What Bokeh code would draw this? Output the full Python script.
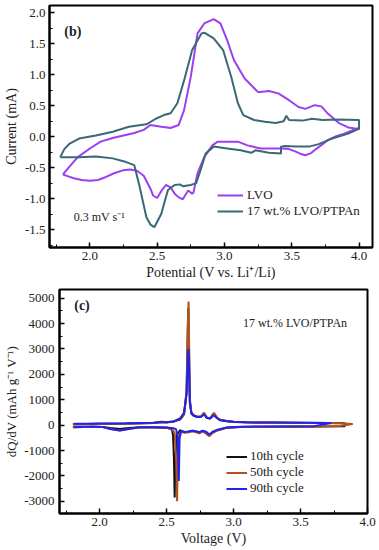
from bokeh.plotting import figure
from bokeh.models import Legend, LegendItem, Label, FixedTicker, Range1d, PrintfTickFormatter
from bokeh.embed import file_html
from bokeh.resources import INLINE

FONT = "Liberation Serif"

# ---------------- Panel (b): cyclic voltammetry ----------------
lvo_v = [1.80, 1.85, 1.91, 2.00, 2.08, 2.17, 2.25, 2.33, 2.40, 2.45, 2.53, 2.60, 2.66, 2.70,
         2.75, 2.80, 2.85, 2.92, 2.97, 3.02, 3.07, 3.15, 3.25, 3.33, 3.40, 3.48, 3.55, 3.60,
         3.67, 3.72, 3.77, 3.85, 3.92, 3.98, 4.00,
         4.00, 3.95, 3.89, 3.83, 3.77, 3.73, 3.68, 3.64, 3.60, 3.57, 3.53, 3.48, 3.43, 3.38,
         3.27, 3.17, 3.10, 2.95, 2.91, 2.85, 2.80, 2.77, 2.76, 2.73, 2.69, 2.66, 2.63, 2.60,
         2.565, 2.53, 2.50, 2.47, 2.45, 2.40, 2.35, 2.30, 2.25, 2.18, 2.12, 2.06, 2.00, 1.94,
         1.88, 1.84, 1.80]
lvo_i = [-0.61, -0.48, -0.33, -0.19, -0.08, -0.02, 0.02, 0.06, 0.11, 0.19, 0.16, 0.14, 0.19, 0.43,
         0.97, 1.67, 1.83, 1.90, 1.83, 1.56, 1.24, 0.94, 0.72, 0.74, 0.70, 0.59, 0.48, 0.45,
         0.51, 0.49, 0.37, 0.22, 0.15, 0.13, 0.12,
         0.14, 0.10, 0.05, 0.01, -0.05, -0.12, -0.20, -0.27, -0.30, -0.28, -0.24, -0.20, -0.19, -0.19,
         -0.19, -0.14, -0.08, -0.08, -0.14, -0.33, -0.59, -0.90, -0.92, -0.87, -1.01, -0.98, -0.92, -0.82,
         -0.78, -0.88, -0.99, -0.95, -0.84, -0.63, -0.55, -0.53, -0.54, -0.59, -0.65, -0.70, -0.71, -0.70,
         -0.67, -0.64, -0.61]

ptpan_v = [1.78, 1.81, 1.85, 1.92, 2.045, 2.17, 2.29, 2.42, 2.49, 2.55, 2.60, 2.65, 2.70, 2.76,
           2.83, 2.85, 2.92, 2.99, 3.05, 3.10, 3.14, 3.22, 3.30, 3.38, 3.44, 3.46, 3.48, 3.58,
           3.65, 3.73, 3.85, 4.00,
           4.00, 3.92, 3.80, 3.70, 3.63, 3.53, 3.45, 3.42, 3.42, 3.33, 3.28, 3.23, 3.20, 3.12,
           3.02, 2.92, 2.86, 2.83, 2.79, 2.75, 2.69, 2.67, 2.63, 2.58, 2.53, 2.48, 2.45, 2.42,
           2.37, 2.33, 2.27, 2.17, 2.045, 1.92, 1.84, 1.78]
ptpan_i = [-0.33, -0.20, -0.11, -0.03, 0.02, 0.08, 0.16, 0.20, 0.29, 0.35, 0.38, 0.54, 0.91, 1.40,
           1.67, 1.68, 1.59, 1.40, 0.97, 0.54, 0.35, 0.27, 0.24, 0.22, 0.25, 0.34, 0.27, 0.26,
           0.29, 0.27, 0.28, 0.27,
           0.13, 0.05, -0.03, -0.12, -0.16, -0.16, -0.15, -0.16, -0.27, -0.26, -0.24, -0.22, -0.26, -0.22,
           -0.19, -0.16, -0.27, -0.49, -0.75, -0.78, -0.80, -0.77, -0.78, -0.86, -1.25, -1.46, -1.42, -1.30,
           -0.81, -0.46, -0.41, -0.35, -0.32, -0.33, -0.33, -0.33]

cv_xticks = [2.0, 2.5, 3.0, 3.5, 4.0]
cv_yticks = [-1.5, -1.0, -0.5, 0.0, 0.5, 1.0, 1.5, 2.0]

# ---------------- Panel (c): dQ/dV ----------------
c10_v = [1.80, 1.90, 2.00, 2.10, 2.20, 2.30, 2.40, 2.46, 2.50, 2.55, 2.60, 2.63, 2.648, 2.657, 2.662,
         2.667, 2.673, 2.685, 2.70, 2.73, 2.76, 2.778, 2.80, 2.825, 2.852, 2.875, 2.90, 2.95, 3.00,
         3.10, 3.30, 3.50, 3.70, 3.83,
         3.83, 3.60, 3.40, 3.20, 3.05, 2.95, 2.88, 2.84, 2.815, 2.79, 2.765, 2.74, 2.715, 2.69, 2.66,
         2.63, 2.60, 2.575, 2.565, 2.560, 2.555, 2.548, 2.54, 2.52, 2.50, 2.40, 2.30, 2.22, 2.15, 2.08,
         2.02, 1.95, 1.88, 1.80]
c10_q = [30, 40, 50, 55, 60, 70, 85, 130, 110, 140, 220, 420, 1200, 3500, 4600,
         3000, 900, 450, 380, 320, 340, 470, 280, 260, 460, 290, 210, 160, 130,
         110, 100, 90, 80, 70,
         -40, -50, -55, -60, -70, -100, -200, -290, -420, -300, -240, -300, -260, -220, -260,
         -280, -200, -400, -1500, -2850, -1400, -400, -180, -130, -100, -85, -85, -110, -150, -110,
         -70, -65, -70, -80]

c50_v = [1.80, 1.90, 2.00, 2.10, 2.20, 2.30, 2.40, 2.46, 2.50, 2.55, 2.60, 2.63, 2.650, 2.658, 2.664,
         2.668, 2.674, 2.685, 2.70, 2.73, 2.757, 2.78, 2.80, 2.825, 2.855, 2.88, 2.90, 2.95, 3.00,
         3.10, 3.30, 3.50, 3.70, 3.80, 3.89,
         3.89, 3.80, 3.60, 3.40, 3.20, 3.05, 2.95, 2.88, 2.845, 2.82, 2.795, 2.77, 2.745, 2.72, 2.695,
         2.665, 2.635, 2.605, 2.59, 2.583, 2.578, 2.572, 2.56, 2.54, 2.50, 2.40, 2.30, 2.22, 2.15, 2.08,
         2.02, 1.95, 1.88, 1.80]
c50_q = [20, 30, 40, 45, 55, 65, 80, 110, 100, 130, 250, 450, 1400, 4000, 4870,
         3200, 1000, 500, 400, 330, 350, 490, 300, 270, 480, 280, 200, 150, 120,
         100, 90, 85, 80, 70, 40,
         40, -30, -60, -75, -70, -70, -100, -210, -300, -430, -300, -250, -320, -270, -240,
         -280, -300, -250, -500, -1500, -3000, -1500, -300, -150, -100, -90, -85, -150, -210, -150,
         -70, -65, -70, -80]

c90_v = [1.81, 1.90, 2.00, 2.10, 2.20, 2.30, 2.40, 2.46, 2.50, 2.55, 2.60, 2.63, 2.650, 2.658, 2.664,
         2.668, 2.674, 2.685, 2.70, 2.73, 2.757, 2.78, 2.80, 2.825, 2.85, 2.88, 2.90, 2.95, 3.00,
         3.10, 3.30, 3.50, 3.73,
         3.73, 3.60, 3.40, 3.20, 3.05, 2.95, 2.88, 2.845, 2.82, 2.795, 2.77, 2.745, 2.72, 2.695, 2.665,
         2.635, 2.61, 2.597, 2.591, 2.586, 2.58, 2.57, 2.55, 2.50, 2.40, 2.30, 2.22, 2.15, 2.08,
         2.02, 1.95, 1.88, 1.81]
c90_q = [50, 55, 60, 65, 70, 80, 90, 110, 110, 140, 260, 480, 1300, 2600, 3000,
         2200, 900, 480, 380, 320, 330, 420, 290, 260, 390, 260, 190, 150, 130,
         110, 100, 90, 80,
         80, -40, -50, -55, -65, -90, -180, -260, -370, -260, -220, -280, -240, -220, -250,
         -270, -230, -500, -2200, -1200, -350, -160, -120, -90, -80, -80, -140, -210, -150,
         -70, -60, -60, -70]

dq_xticks = [2.0, 2.5, 3.0, 3.5, 4.0]
dq_yticks = [-3000, -2000, -1000, 0, 1000, 2000, 3000, 4000, 5000]


def style(p, xticks, yticks, xlabel, ylabel, yfmt, ylab_size, ystand, ylabstand):
    p.grid.visible = False
    p.outline_line_color = "black"
    p.outline_line_width = 2
    p.background_fill_color = "white"
    p.border_fill_color = "white"
    p.xaxis.ticker = FixedTicker(ticks=xticks, minor_ticks=[x + 0.25 for x in xticks] + [xticks[0] - 0.25])
    step = yticks[1] - yticks[0]
    p.yaxis.ticker = FixedTicker(ticks=yticks, minor_ticks=[y + step / 2 for y in yticks] + [yticks[0] - step / 2])
    p.xaxis.formatter = PrintfTickFormatter(format="%.1f")
    p.yaxis.formatter = PrintfTickFormatter(format=yfmt)
    for ax in (p.xaxis[0], p.yaxis[0]):
        ax.axis_line_width = 2
        ax.axis_line_color = "black"
        ax.major_tick_in = 5
        ax.major_tick_out = 0
        ax.minor_tick_in = 3
        ax.minor_tick_out = 0
        ax.major_tick_line_width = 1.5
        ax.minor_tick_line_width = 1
        ax.major_label_text_font = FONT
        ax.major_label_text_font_size = "13px"
        ax.major_label_text_color = "#222222"
        ax.axis_label_text_font = FONT
        ax.axis_label_text_font_style = "normal"
        ax.axis_label_text_color = "#222222"
    p.xaxis.axis_label = xlabel
    p.yaxis.axis_label = ylabel
    p.xaxis.axis_label_text_font_size = "14px"
    p.yaxis.axis_label_text_font_size = ylab_size
    p.xaxis.major_label_standoff = 4
    p.xaxis.axis_label_standoff = 2
    p.yaxis.major_label_standoff = ystand
    p.yaxis.axis_label_standoff = ylabstand


# ---- top figure ----
p1 = figure(width=379, height=284, output_backend="svg", toolbar_location=None,
            x_range=Range1d(1.70, 4.10), y_range=Range1d(-1.79, 2.12),
            min_border_top=5, min_border_left=49, min_border_right=7, min_border_bottom=37)
style(p1, cv_xticks, cv_yticks, "Potential (V vs. Li\u207a/Li)", "Current (mA)", "%.1f", "14px", 4, 3)
r_lvo = p1.line(lvo_v, lvo_i, line_color="#9b3ff0", line_width=2)
r_pt = p1.line(ptpan_v, ptpan_i, line_color="#3a6874", line_width=2)
leg1 = Legend(items=[LegendItem(label="LVO", renderers=[r_lvo]),
                     LegendItem(label="17 wt.% LVO/PTPAn", renderers=[r_pt])],
              location=(168, 28), padding=0, margin=0, spacing=0, glyph_width=26,
              glyph_height=16, label_height=16, label_standoff=4,
              label_text_font=FONT, label_text_font_size="13px", label_text_color="#222222",
              border_line_alpha=0, background_fill_alpha=0)
p1.add_layout(leg1)
p1.add_layout(Label(x=1.81, y=1.70, text="(b)", text_font=FONT, text_font_size="14px",
                    text_font_style="bold", text_baseline="middle", text_color="#222222"))
p1.add_layout(Label(x=1.88, y=-1.30, text="0.3 mV s\u207b\u00b9", text_font=FONT, text_font_size="12px",
                    text_baseline="middle", text_color="#222222"))

# ---- bottom figure ----
p2 = figure(width=379, height=266, output_backend="svg", toolbar_location=None,
            x_range=Range1d(1.70, 4.00), y_range=Range1d(-3480, 5340),
            min_border_top=5, min_border_left=59, min_border_right=12, min_border_bottom=37)
style(p2, dq_xticks, dq_yticks, "Voltage (V)", "dQ/dV (mAh g\u207b\u00b9 V\u207b\u00b9)", "%d", "13px", 5, 2)
r10 = p2.line(c10_v, c10_q, line_color="#111111", line_width=2)
r50 = p2.line(c50_v, c50_q, line_color="#b4521e", line_width=2)
r90 = p2.line(c90_v, c90_q, line_color="#2222ee", line_width=2)
leg2 = Legend(items=[LegendItem(label="10th cycle", renderers=[r10]),
                     LegendItem(label="50th cycle", renderers=[r50]),
                     LegendItem(label="90th cycle", renderers=[r90])],
              location=(167, 17), padding=0, margin=0, spacing=0, glyph_width=21,
              glyph_height=15, label_height=15, label_standoff=3,
              label_text_font=FONT, label_text_font_size="13px", label_text_color="#222222",
              border_line_alpha=0, background_fill_alpha=0)
p2.add_layout(leg2)
p2.add_layout(Label(x=1.81, y=4700, text="(c)", text_font=FONT, text_font_size="14px",
                    text_font_style="bold", text_baseline="middle", text_color="#222222"))
p2.add_layout(Label(x=3.07, y=4040, text="17 wt.% LVO/PTPAn", text_font=FONT, text_font_size="12px",
                    text_baseline="middle", text_color="#222222"))

# two independent roots stacked vertically (no frame alignment between them)
open("out.html", "w").write(file_html([p1, p2], INLINE))
